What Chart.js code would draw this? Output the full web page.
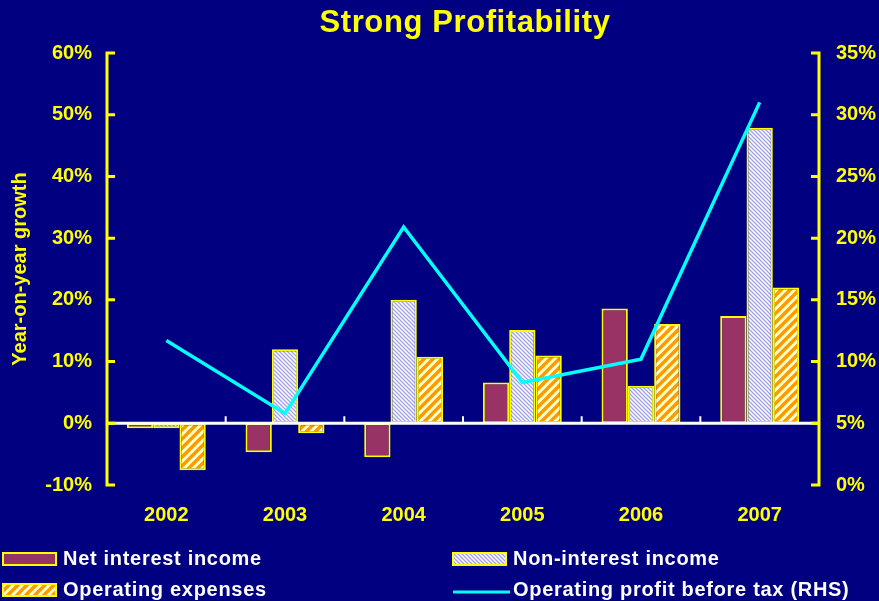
<!DOCTYPE html>
<html>
<head>
<meta charset="utf-8">
<script src="https://cdn.jsdelivr.net/npm/chart.js@4/dist/chart.umd.min.js"></script>
<style>
  html, body { margin: 0; padding: 0; background: #000080; }
  #wrap { width: 879px; height: 601px; }
</style>
</head>
<body>
<div id="wrap"><canvas id="c" width="879" height="601"></canvas></div>
<script>
// ---- Data ----
const titleText = 'Strong Profitability';
const yAxisTitle = 'Year-on-year growth';
const categories = ['2002', '2003', '2004', '2005', '2006', '2007'];
const netInterestIncome = [-0.8, -4.7, -5.5, 6.6, 18.6, 17.4];
const nonInterestIncome = [-0.8, 12.0, 20.0, 15.1, 6.1, 47.9];
const operatingExpenses = [-7.6, -1.6, 10.8, 11.0, 16.1, 22.0];
const operatingProfit = [11.7, 5.8, 20.9, 8.3, 10.2, 31.0];
const seriesLabels = ['Net interest income', 'Non-interest income', 'Operating expenses', 'Operating profit before tax (RHS)'];
const leftTicks = { min: -10, max: 60, step: 10 };
const rightTicks = { min: 0, max: 35, step: 5 };

// ---- Styles ----
const NAVY = '#000080';
const YELLOW = '#FFFF00';
const canvas = document.getElementById('c');
const ctx = canvas.getContext('2d');

function makeHatch(bg, fg, size, lw, dir) {
  const c = document.createElement('canvas');
  c.width = size; c.height = size;
  const g = c.getContext('2d');
  g.fillStyle = bg; g.fillRect(0, 0, size, size);
  g.strokeStyle = fg; g.lineWidth = lw;
  g.beginPath();
  for (const o of [-size, 0, size]) {
    if (dir === '/') { g.moveTo(o - 1, size + 1); g.lineTo(o + size + 1, -1); }
    else { g.moveTo(o - 1, -1); g.lineTo(o + size + 1, size + 1); }
  }
  g.stroke();
  return ctx.createPattern(c, 'repeat');
}
const nonIntPattern = makeHatch('#FFFFFF', '#A0A0F0', 4, 1.3, '\\');
const opexPattern = makeHatch('#FFFFC8', '#FF9900', 9, 3.4, '/');

const bgPlugin = {
  id: 'bg',
  beforeDraw(chart) {
    const c = chart.ctx;
    c.save(); c.fillStyle = NAVY; c.fillRect(0, 0, chart.width, chart.height); c.restore();
  }
};

function drawAxes(chart) {
  const c = chart.ctx;
  const a = chart.chartArea;
  const y = chart.scales.y, y1 = chart.scales.y1, x = chart.scales.x;
  c.save();
  // x axis line at zero (white)
  const zy = y.getPixelForValue(0);
  c.strokeStyle = '#FFFFFF';
  c.lineWidth = 3;
  c.beginPath(); c.moveTo(a.left, zy); c.lineTo(a.right, zy); c.stroke();
  const half = (x.getPixelForTick(1) - x.getPixelForTick(0)) / 2;
  c.lineWidth = 2;
  c.beginPath();
  for (let i = 0; i <= categories.length; i++) {
    const px = x.getPixelForTick(0) - half + i * 2 * half;
    c.moveTo(px, zy); c.lineTo(px, zy - 7);
  }
  c.stroke();
  // left axis
  c.strokeStyle = YELLOW;
  c.lineWidth = 3;
  c.beginPath();
  c.moveTo(a.left, y.getPixelForValue(leftTicks.max) - 1.5);
  c.lineTo(a.left, y.getPixelForValue(leftTicks.min) + 1.5);
  y.ticks.forEach((t, i) => {
    const py = y.getPixelForTick(i);
    c.moveTo(a.left, py); c.lineTo(a.left + 8, py);
  });
  // right axis
  c.moveTo(a.right, y1.getPixelForValue(rightTicks.max) - 1.5);
  c.lineTo(a.right, y1.getPixelForValue(rightTicks.min) + 1.5);
  y1.ticks.forEach((t, i) => {
    const py = y1.getPixelForTick(i);
    c.moveTo(a.right, py); c.lineTo(a.right - 8, py);
  });
  c.stroke();
  c.restore();
}

const axesPlugin = {
  id: 'axesCustom',
  beforeDatasetDraw(chart, args) {
    if (chart.data.datasets[args.index].type === 'line') drawAxes(chart);
  }
};

const titleLegendPlugin = {
  id: 'titleLegend',
  afterDraw(chart) {
    const c = chart.ctx;
    const a = chart.chartArea;
    c.save();
    // title
    c.fillStyle = YELLOW;
    c.font = 'bold 31px "Liberation Sans", Arial, sans-serif';
    c.letterSpacing = '0.6px';
    c.textAlign = 'center';
    c.textBaseline = 'middle';
    c.fillText(titleText, (a.left + a.right) / 2 + 2, 23);
    // legend
    c.font = 'bold 20px "Liberation Sans", Arial, sans-serif';
    c.letterSpacing = '0.7px';
    c.textAlign = 'left';
    c.textBaseline = 'middle';
    const cols = [3, 453];
    const rows = [559, 590];
    const ds = chart.data.datasets;
    const order = [0, 1, 2, 3]; // NII, NonII, OpEx, Line
    order.forEach((di, k) => {
      const d = ds[di];
      const bx = cols[k % 2], cy = rows[Math.floor(k / 2)];
      if (d.type === 'line') {
        c.strokeStyle = d.borderColor; c.lineWidth = 3;
        c.beginPath(); c.moveTo(bx, cy + 2); c.lineTo(bx + 57, cy + 2); c.stroke();
      } else {
        c.fillStyle = d.backgroundColor;
        c.fillRect(bx, cy - 6, 53, 12);
        c.strokeStyle = YELLOW; c.lineWidth = 2;
        c.strokeRect(bx, cy - 6, 53, 12);
      }
      c.fillStyle = '#FFFFFF';
      c.fillText(d.label, bx + 60, cy);
    });
    c.restore();
  }
};

const tickFont = { family: '"Liberation Sans", Arial, sans-serif', size: 20, weight: 'bold' };

new Chart(ctx, {
  data: {
    labels: categories,
    datasets: [
      { type: 'bar', label: seriesLabels[0], data: netInterestIncome, backgroundColor: '#993366',
        borderColor: YELLOW, borderWidth: 2, borderSkipped: false, yAxisID: 'y', order: 1 },
      { type: 'bar', label: seriesLabels[1], data: nonInterestIncome, backgroundColor: nonIntPattern,
        borderColor: YELLOW, borderWidth: 2, borderSkipped: false, yAxisID: 'y', order: 1 },
      { type: 'bar', label: seriesLabels[2], data: operatingExpenses, backgroundColor: opexPattern,
        borderColor: YELLOW, borderWidth: 2, borderSkipped: false, yAxisID: 'y', order: 1 },
      { type: 'line', label: seriesLabels[3], data: operatingProfit, borderColor: '#00FFFF',
        borderWidth: 3.5, pointRadius: 0, tension: 0, fill: false, yAxisID: 'y1', order: 0 }
    ]
  },
  options: {
    responsive: false,
    animation: false,
    devicePixelRatio: 1,
    layout: { padding: { top: 53, bottom: 76, left: 0, right: 0 } },
    datasets: { bar: { categoryPercentage: 0.665, barPercentage: 1.0 } },
    plugins: { legend: { display: false }, title: { display: false }, tooltip: { enabled: false } },
    scales: {
      x: {
        type: 'category',
        grid: { display: false, drawTicks: false },
        border: { display: false },
        ticks: { color: YELLOW, font: tickFont, padding: 18, maxRotation: 0 },
        afterFit(s) { s.height = 40; }
      },
      y: {
        position: 'left',
        min: leftTicks.min, max: leftTicks.max,
        grid: { display: false, drawTicks: false },
        border: { display: false },
        ticks: { stepSize: leftTicks.step, color: YELLOW, font: tickFont, padding: 15,
                 callback: v => v + '%' },
        title: { display: true, text: yAxisTitle, color: YELLOW,
                 font: { family: '"Liberation Sans", Arial, sans-serif', size: 20, weight: 'bold' },
                 padding: { top: 8, bottom: 4 } },
        afterFit(s) { s.width = 107; }
      },
      y1: {
        position: 'right',
        min: rightTicks.min, max: rightTicks.max,
        grid: { display: false, drawTicks: false },
        border: { display: false },
        ticks: { stepSize: rightTicks.step, color: YELLOW, font: tickFont, padding: 17,
                 callback: v => v + '%' },
        afterFit(s) { s.width = 60; }
      }
    }
  },
  plugins: [bgPlugin, axesPlugin, titleLegendPlugin]
});
</script>
</body>
</html>
